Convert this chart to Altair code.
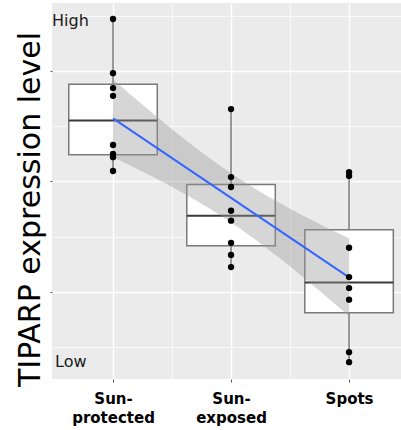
import altair as alt
import pandas as pd
import numpy as np

# ---- data ----
groups = ["Sun-protected", "Sun-exposed", "Spots"]
group_pos = [1, 2, 3]
label_lines = [["Sun-", "protected"], ["Sun-", "exposed"], ["Spots"]]
sun_protected = [6.94, 5.96, 5.69, 5.55, 4.66, 4.50, 4.44, 4.19]
sun_exposed = [5.31, 4.08, 3.90, 3.47, 3.29, 2.89, 2.67, 2.45]
spots = [4.17, 4.10, 2.80, 2.27, 2.07, 1.86, 0.91, 0.73]
level_text = ["High", "Low"]
y_title = "TIPARP expression level"

rows = []
for g, p, vals in zip(groups, group_pos, [sun_protected, sun_exposed, spots]):
    for v in vals:
        rows.append({"group": g, "x": p, "y": v})
df = pd.DataFrame(rows)

# ---- linear model confidence band (like geom_smooth(method="lm")) ----
X = df["x"].values.astype(float)
Y = df["y"].values.astype(float)
n = len(X)
b1, b0 = np.polyfit(X, Y, 1)
res = Y - (b0 + b1 * X)
s = np.sqrt((res ** 2).sum() / (n - 2))
xbar = X.mean()
sxx = ((X - xbar) ** 2).sum()
tq = 2.0739  # qt(0.975, df=22)
xs = np.linspace(min(group_pos), max(group_pos), 81)
fit = b0 + b1 * xs
se = s * np.sqrt(1.0 / n + (xs - xbar) ** 2 / sxx)
band = pd.DataFrame({"x": xs, "lo": fit - tq * se, "hi": fit + tq * se})

# ---- scales & axes ----
xscale = alt.Scale(domain=[0.483, 3.44], nice=False, zero=False)
yscale = alt.Scale(domain=[0.425, 7.23], nice=False, zero=False)

def js_list(lst):
    return "[" + ",".join("'" + s + "'" for s in lst) + "]"

label_expr = ""
for p, lines in zip(group_pos, label_lines):
    label_expr += f"datum.value == {p} ? {js_list(lines)} : "
label_expr += "''"

x_axis = alt.Axis(
    values=[1, 1.5, 2, 2.5, 3],
    title=None,
    labelExpr=label_expr,
    labelFont="DejaVu Sans",
    labelFontWeight="bold",
    labelFontSize=15,
    labelColor="black",
    labelLineHeight=19.5,
    labelPadding=9,
    labelAngle=0,
    labelBaseline="top",
    domain=False,
    tickSize=3,
    tickWidth=1,
    tickColor={"condition": {"test": "datum.value % 1 == 0", "value": "#555555"}, "value": "transparent"},
    grid=True,
    gridColor="white",
    gridOpacity=1,
    gridWidth={"condition": {"test": "datum.value % 1 == 0", "value": 1.4}, "value": 0.7},
)

y_axis = alt.Axis(
    values=[1, 2, 3, 4, 5, 6, 7],
    title=y_title,
    titleFont="DejaVu Sans",
    titleFontWeight="normal",
    titleFontSize=30,
    titleColor="black",
    titleBaseline="alphabetic",
    titleX=-13,
    titleY=206,
    labels=False,
    domain=False,
    tickSize=2,
    tickWidth=1,
    tickColor={"condition": {"test": "datum.value % 2 == 0", "value": "#555555"}, "value": "transparent"},
    grid=True,
    gridColor="white",
    gridOpacity=1,
    gridWidth={"condition": {"test": "datum.value % 2 == 0", "value": 1.4}, "value": 0.7},
)

def XQ(f):
    return alt.X(f"{f}:Q", scale=xscale, axis=x_axis)

def YQ(f):
    return alt.Y(f"{f}:Q", scale=yscale, axis=y_axis)

# ---- boxplot stats (Tukey whiskers) ----
stats = (
    alt.Chart(df)
    .transform_joinaggregate(q1="q1(y)", q3="q3(y)", med="median(y)", groupby=["x"])
    .transform_calculate(
        lo="datum.q1 - 1.5*(datum.q3-datum.q1)",
        hi="datum.q3 + 1.5*(datum.q3-datum.q1)",
    )
    .transform_filter("datum.y >= datum.lo && datum.y <= datum.hi")
    .transform_aggregate(
        wlo="min(y)", whi="max(y)", bq1="max(q1)", bq3="max(q3)", bmed="max(med)",
        groupby=["x"],
    )
    .transform_calculate(xl="datum.x - 0.375", xr="datum.x + 0.375")
)

whisker = stats.mark_rule(color="#7a7a7a", strokeWidth=1.5).encode(
    x=XQ("x"), y=YQ("wlo"), y2="whi:Q"
)
box = stats.mark_rect(fill="white", stroke="#7a7a7a", strokeWidth=1.5).encode(
    x=XQ("xl"), x2="xr:Q", y=YQ("bq1"), y2="bq3:Q"
)
median = stats.mark_rule(color="#3a3a3a", strokeWidth=2).encode(
    x=XQ("xl"), x2="xr:Q", y=YQ("bmed")
)

ribbon = alt.Chart(band).mark_area(color="#999999", opacity=0.4).encode(
    x=XQ("x"), y=YQ("lo"), y2="hi:Q"
)

line = (
    alt.Chart(df)
    .transform_regression("x", "y", extent=[min(group_pos), max(group_pos)])
    .mark_line(color="#3366FF", strokeWidth=2)
    .encode(x=XQ("x"), y=YQ("y"))
)

points = alt.Chart(df).mark_circle(size=40, color="black", opacity=1).encode(
    x=XQ("x"), y=YQ("y")
)

high = alt.Chart(pd.DataFrame({"t": [level_text[0]]})).mark_text(
    align="left", baseline="alphabetic",
    font="DejaVu Sans", fontSize=16, color="#1a1a1a",
).encode(text="t:N", x=alt.value(0), y=alt.value(23))

low = alt.Chart(pd.DataFrame({"t": [level_text[1]]})).mark_text(
    align="left", baseline="alphabetic",
    font="DejaVu Sans", fontSize=16, color="#1a1a1a",
).encode(text="t:N", x=alt.value(3), y=alt.value(364))

chart = (
    alt.layer(whisker, box, median, ribbon, line, points, high, low)
    .properties(
        width=349,
        height=376,
        padding={"left": 52, "top": 3, "right": 0, "bottom": 51},
        autosize=alt.AutoSizeParams(type="none"),
        background="white",
    )
    .configure_view(fill="#EBEBEB", stroke=None)
)

chart.save("out.html", embed_options={"renderer": "svg", "actions": False})
